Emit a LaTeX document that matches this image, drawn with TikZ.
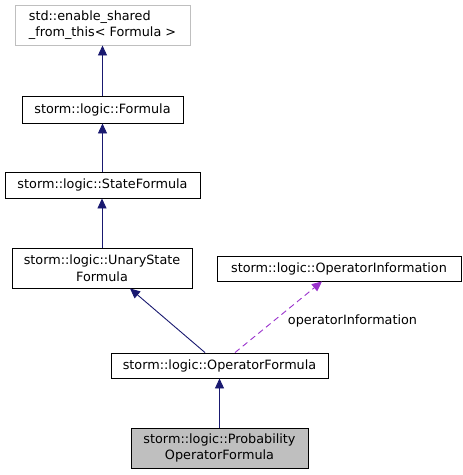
\documentclass[tikz,border=0pt]{standalone}
\usepackage{fontspec}
\setmainfont{DejaVu Sans}
\usepackage{xcolor}
\usetikzlibrary{arrows.meta,positioning}
\definecolor{edgeblue}{RGB}{25, 25, 112}
\definecolor{usagepurple}{RGB}{154, 50, 205}
\definecolor{boxgray}{RGB}{191, 191, 191}

\begin{document}
\begin{tikzpicture}[
    x=1pt, y=-1pt,
    every node/.style={font=\fontsize{12.8}{16.7}\selectfont, inner sep=0pt},
    classbox/.style={rectangle, draw=black, fill=white, line width=0.9pt, align=center},
    extbox/.style={rectangle, draw=boxgray, fill=white, line width=0.9pt, align=left},
    selfbox/.style={rectangle, draw=black, fill=boxgray, line width=0.9pt, align=center},
    inherit/.style={draw=edgeblue, line width=0.9pt, -{Triangle[length=10pt,width=9pt,fill=edgeblue]}},
    usage/.style={draw=usagepurple, line width=0.9pt, dashed, dash pattern=on 6pt off 4pt, -{Triangle[length=10pt,width=9pt,fill=usagepurple]}}
]
\useasboundingbox (0,0) rectangle (463,475);

% Class hierarchy
\node[extbox, minimum width=175pt, minimum height=40pt] (shared) at (102.5,25) {std::enable\_shared\\\_from\_this< Formula >};
\node[classbox, minimum width=161pt, minimum height=27pt] (formula) at (102.5,109.5) {storm::logic::Formula};
\node[classbox, minimum width=195pt, minimum height=26pt] (state) at (102.5,185) {storm::logic::StateFormula};
\node[classbox, minimum width=180pt, minimum height=40pt] (unary) at (102,268) {storm::logic::UnaryState\\Formula};
\node[classbox, minimum width=244pt, minimum height=25pt] (opinfo) at (339,268.5) {storm::logic::OperatorInformation};
\node[classbox, minimum width=217pt, minimum height=25pt] (opformula) at (219.5,365.5) {storm::logic::OperatorFormula};
\node[selfbox, minimum width=177pt, minimum height=40pt] (prob) at (219.5,448) {storm::logic::Probability\\OperatorFormula};

% Connections
\draw[inherit] (formula) -- (shared);
\draw[inherit] (state) -- (formula);
\draw[inherit] (unary.north) -- (unary.north |- state.south);
\draw[inherit] ([xshift=-14.5pt]opformula.north) -- ([xshift=28pt]unary.south);
\draw[usage] ([xshift=15.5pt]opformula.north) -- ([xshift=-17pt]opinfo.south)
    node[pos=0.5, right=9pt, yshift=-4pt] (infolabel) {operatorInformation};
\draw[inherit] (prob) -- (opformula);

\end{tikzpicture}
\end{document}
